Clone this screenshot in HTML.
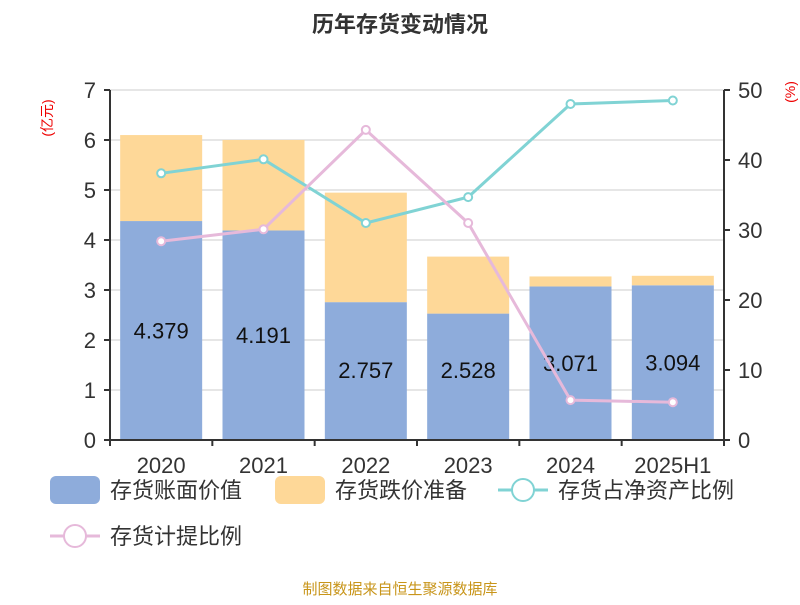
<!DOCTYPE html>
<html><head><meta charset="utf-8"><style>
body{margin:0;background:#fff;font-family:"Liberation Sans","Noto Sans CJK SC",sans-serif}
</style></head><body>
<svg id="c" width="800" height="600" xmlns="http://www.w3.org/2000/svg" font-family="Liberation Sans, Noto Sans CJK SC, sans-serif">
<text x="400" y="32" text-anchor="middle" font-size="22" font-weight="bold" fill="#333">历年存货变动情况</text>
<text transform="translate(52,118) rotate(-90)" text-anchor="middle" font-size="14" fill="#e00">(亿元)</text>
<text transform="translate(795,92) rotate(-90)" text-anchor="middle" font-size="14" fill="#e00">(%)</text>
<g id="grid"></g><g id="bars"></g><g id="lines"></g><g id="axes"></g>
<g font-size="22" fill="#333">
<rect x="50" y="476" width="50" height="28" rx="6" fill="#8eacdb"/>
<text x="110" y="498">存货账面价值</text>
<rect x="275" y="476" width="50" height="28" rx="6" fill="#fed898"/>
<text x="335" y="498">存货跌价准备</text>
<line x1="498" y1="490" x2="548" y2="490" stroke="#80d3d4" stroke-width="3"/>
<circle cx="523" cy="490" r="11" fill="#fff" stroke="#80d3d4" stroke-width="2"/>
<text x="558" y="498">存货占净资产比例</text>
<line x1="50" y1="536" x2="100" y2="536" stroke="#e6b9da" stroke-width="3"/>
<circle cx="75" cy="536" r="11" fill="#fff" stroke="#e6b9da" stroke-width="2"/>
<text x="110" y="544">存货计提比例</text>
</g>
<text x="400" y="594" text-anchor="middle" font-size="15" fill="#c8951a">制图数据来自恒生聚源数据库</text>
</svg>
<script>
const categories=["2020","2021","2022","2023","2024","2025H1"];
const bookValue=[4.379,4.191,2.757,2.528,3.071,3.094];
const provision=[1.72,1.81,2.19,1.14,0.20,0.19];
const netAssetRatio=[38.1,40.1,31.0,34.7,48.0,48.5];
const provisionRatio=[28.4,30.1,44.3,31.0,5.7,5.4];
const leftTicks=[0,1,2,3,4,5,6,7];
const rightTicks=[0,10,20,30,40,50];
const NS="http://www.w3.org/2000/svg";
const X0=110,X1=724,Y0=440,Y1=90;
const yL=v=>Y0-(v/7)*(Y0-Y1);
const yR=v=>Y0-(v/50)*(Y0-Y1);
const band=(X1-X0)/categories.length;
const xC=i=>X0+band*(i+0.5);
function mk(p,t,a){const e=document.createElementNS(NS,t);for(const k in a)e.setAttribute(k,a[k]);p.appendChild(e);return e;}
const grid=document.getElementById('grid'),bars=document.getElementById('bars'),lines=document.getElementById('lines'),axes=document.getElementById('axes');
leftTicks.forEach(v=>{const l=mk(grid,'line',{x1:X0,x2:X1,y1:yL(v),y2:yL(v),stroke:'#ccc','stroke-width':1});


const t=mk(axes,'text',{x:X0-14,y:yL(v)+8,'text-anchor':'end','font-size':22,fill:'#333'});t.textContent=v;


mk(axes,'line',{x1:X0-6,x2:X0,y1:yL(v),y2:yL(v),stroke:'#333','stroke-width':2});});
rightTicks.forEach(v=>{const t=mk(axes,'text',{x:X1+14,y:yR(v)+8,'font-size':22,fill:'#333'});t.textContent=v;


mk(axes,'line',{x1:X1,x2:X1+6,y1:yR(v),y2:yR(v),stroke:'#333','stroke-width':2});});
mk(axes,'line',{x1:X0,x2:X0,y1:Y1,y2:Y0,stroke:'#333','stroke-width':2});
mk(axes,'line',{x1:X1,x2:X1,y1:Y1,y2:Y0,stroke:'#333','stroke-width':2});
mk(axes,'line',{x1:X0,x2:X1,y1:Y0,y2:Y0,stroke:'#333','stroke-width':2});
const bw=82;
categories.forEach((c,i)=>{const x=xC(i)-bw/2;
const b=mk(bars,'rect',{x:x,y:yL(bookValue[i]),width:bw,height:Y0-yL(bookValue[i]),fill:'#8eacdb'});


const top=bookValue[i]+provision[i];
const o=mk(bars,'rect',{x:x,y:yL(top),width:bw,height:yL(bookValue[i])-yL(top),fill:'#fed898'});


const lb=mk(bars,'text',{x:xC(i),y:Math.min(yL(bookValue[i]/2),yL(1.4))+8,'text-anchor':'middle','font-size':22,fill:'#111'});lb.textContent=bookValue[i].toFixed(3);


mk(axes,'line',{x1:X0+band*i,x2:X0+band*i,y1:Y0,y2:Y0+6,stroke:'#333','stroke-width':2});
const t=mk(axes,'text',{x:xC(i),y:Y0+33,'text-anchor':'middle','font-size':22,fill:'#333'});t.textContent=c;

});
mk(axes,'line',{x1:X1,x2:X1,y1:Y0,y2:Y0+6,stroke:'#333','stroke-width':2});
[[netAssetRatio,'#80d3d4','net-asset-ratio'],[provisionRatio,'#e6b9da','provision-ratio']].forEach(([d,col,n])=>{
const p=mk(lines,'polyline',{points:d.map((v,i)=>xC(i)+','+yR(v)).join(' '),fill:'none',stroke:col,'stroke-width':3});


d.forEach((v,i)=>{const c=mk(lines,'circle',{cx:xC(i),cy:yR(v),r:4,fill:'#fff',stroke:col,'stroke-width':2});

});});
</script>
</body></html>
